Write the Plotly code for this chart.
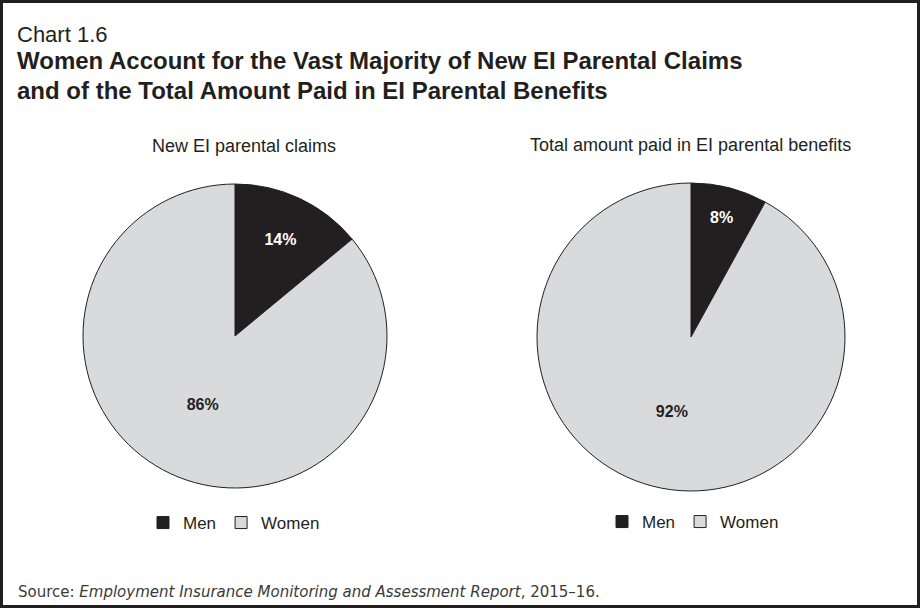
import plotly.graph_objects as go

# ---- data ----
labels = ["Men", "Women"]
claims_share = [14, 86]          # New EI parental claims (%)
benefits_share = [8, 92]         # Total amount paid in EI parental benefits (%)
pie_titles = ["New EI parental claims", "Total amount paid in EI parental benefits"]
chart_number = "Chart 1.6"
chart_title_lines = ["Women Account for the Vast Majority of New EI Parental Claims",
                     "and of the Total Amount Paid in EI Parental Benefits"]
source_text = ("Source: <i>Employment Insurance Monitoring and Assessment Report</i>, 2015\u201316.")

W, H = 920, 608
MEN = "#231f20"
WOMEN = "#d9dadb"
FONT = "Liberation Sans, Arial, sans-serif"


def px_x(x):
    return x / W


def px_y(y):
    return 1 - y / H


fig = go.Figure()

# pie legends merge equal labels across traces; a zero-width space keeps the
# second pie's legend entries separate while rendering identically.
pies = [
    dict(values=claims_share, names=labels, cx=235, cy=336, r=152, legend="legend"),
    dict(values=benefits_share, names=[l + "\u200b" for l in labels],
         cx=691, cy=337, r=154, legend="legend2"),
]
for p in pies:
    fig.add_trace(go.Pie(
        labels=p["names"],
        values=p["values"],
        sort=False,
        direction="clockwise",
        rotation=0,
        hole=0,
        marker=dict(colors=[MEN, WOMEN], line=dict(color=MEN, width=1)),
        texttemplate="%{value}%",
        textposition="inside",
        insidetextorientation="horizontal",
        textfont=dict(family=FONT, size=16, color=["#ffffff", MEN], weight="bold"),
        hoverinfo="label+percent",
        domain=dict(x=[px_x(p["cx"] - p["r"]), px_x(p["cx"] + p["r"])],
                    y=[px_y(p["cy"] + p["r"]), px_y(p["cy"] - p["r"])]),
        legend=p["legend"],
        showlegend=True,
    ))

legend_common = dict(
    orientation="h",
    xanchor="center",
    yanchor="middle",
    font=dict(family=FONT, size=17, color=MEN),
    bgcolor="rgba(0,0,0,0)",
    itemwidth=30,
    tracegroupgap=0,
)

annotations = [
    dict(text=chart_number, x=px_x(15), y=px_y(34.5), xanchor="left", yanchor="middle",
         font=dict(family=FONT, size=22, color="#231f20")),
    dict(text="<b>" + chart_title_lines[0] + "</b>", x=px_x(15), y=px_y(60),
         xanchor="left", yanchor="middle",
         font=dict(family=FONT, size=24, color="#231f20")),
    dict(text="<b>" + chart_title_lines[1] + "</b>", x=px_x(15), y=px_y(90),
         xanchor="left", yanchor="middle",
         font=dict(family=FONT, size=24, color="#231f20")),
    dict(text=pie_titles[0], x=px_x(244), y=px_y(146.5), xanchor="center", yanchor="middle",
         font=dict(family=FONT, size=18, color="#231f20")),
    dict(text=pie_titles[1], x=px_x(690), y=px_y(144.5), xanchor="center", yanchor="middle",
         font=dict(family=FONT, size=18, color="#231f20")),
    dict(text=source_text, x=px_x(16), y=px_y(591.5), xanchor="left", yanchor="middle",
         font=dict(family="DejaVu Sans, sans-serif", size=15, color="#3a3a3a")),
]
for a in annotations:
    a.update(xref="paper", yref="paper", showarrow=False)

fig.update_layout(
    width=W, height=H,
    margin=dict(l=0, r=0, t=0, b=0),
    paper_bgcolor="#ffffff",
    plot_bgcolor="#ffffff",
    legend=dict(legend_common, x=px_x(234), y=px_y(523)),
    legend2=dict(legend_common, x=px_x(693), y=px_y(522)),
    annotations=annotations,
    shapes=[dict(type="rect", xref="paper", yref="paper", x0=px_x(1.5), y0=px_y(606.5),
                 x1=px_x(918.5), y1=px_y(1.5), line=dict(color="#231f20", width=3))],
)

fig.write_html("out.html",
               config={"displayModeBar": False},
               post_script="document.body.style.margin='0';document.body.style.overflow='hidden';")
